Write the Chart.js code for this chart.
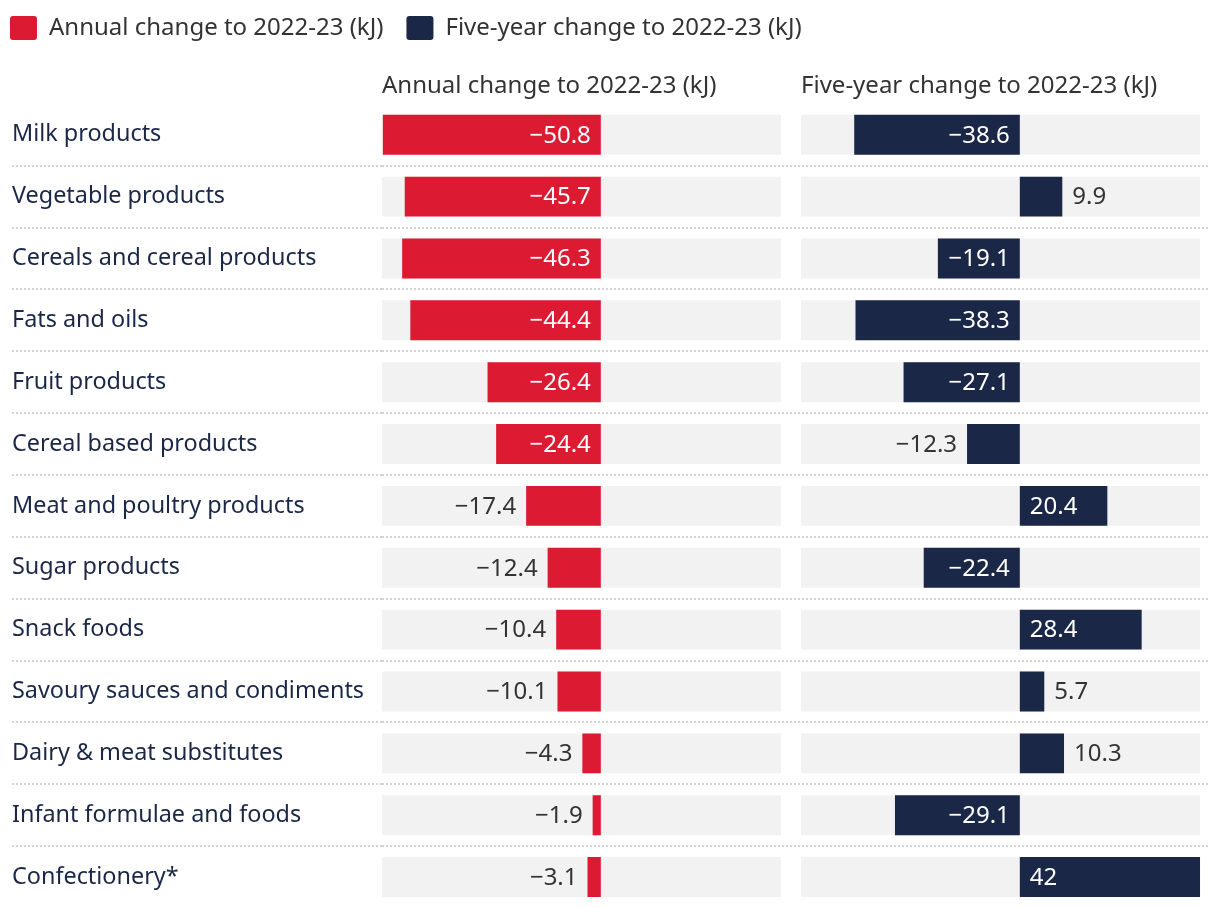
<html lang="en">
<head>
  <meta charset="UTF-8">
  <title>Energy change by food group</title>
  <script src="https://cdn.jsdelivr.net/npm/chart.js"></script>
  <style>
    body { margin: 0; background: #fff; }
  </style>
  <script>
    const categories = [
      'Milk products', 'Vegetable products', 'Cereals and cereal products', 'Fats and oils',
      'Fruit products', 'Cereal based products', 'Meat and poultry products', 'Sugar products',
      'Snack foods', 'Savoury sauces and condiments', 'Dairy & meat substitutes',
      'Infant formulae and foods', 'Confectionery*'
    ]
    const annualChange = [-50.8, -45.7, -46.3, -44.4, -26.4, -24.4, -17.4, -12.4, -10.4, -10.1, -4.3, -1.9, -3.1]
    const fiveYearChange = [-38.6, 9.9, -19.1, -38.3, -27.1, -12.3, 20.4, -22.4, 28.4, 5.7, 10.3, -29.1, 42]
    const seriesNames = ['Annual change to 2022-23 (kJ)', 'Five-year change to 2022-23 (kJ)']
    const axisMin = -51
    const axisMax = 42

    const RED = '#dc1a32'
    const NAVY = '#1b2747'
    const TRACK = '#f2f2f2'
    const FONT = "'Noto Sans', sans-serif"
    const SIZE = 24

    // extra room to the right of each panel (in axis units)
    const leftGap = 4.66
    const rightGap = 1.86

    const fmt = v => String(v).replace('-', '\u2212')

    const valueLabels = {
      id: 'valueLabels',
      afterDatasetsDraw(chart) {
        const ctx = chart.ctx
        ctx.save()
        ctx.font = `${SIZE}px ${FONT}`
        ctx.textBaseline = 'middle'
        chart.data.datasets.forEach((ds, i) => {
          if (ds.isTrack) return
          const meta = chart.getDatasetMeta(i)
          meta.data.forEach((bar, j) => {
            const v = ds.data[j]
            const text = fmt(v)
            const w = ctx.measureText(text).width
            const len = Math.abs(bar.x - bar.base)
            const neg = v < 0
            ctx.textAlign = neg ? 'right' : 'left'
            if (len >= w + 18) {
              ctx.fillStyle = '#fff'
              ctx.fillText(text, neg ? bar.base - 10 : bar.base + 10, bar.y + 1)
            } else {
              ctx.fillStyle = '#333'
              ctx.fillText(text, neg ? bar.x - 10 : bar.x + 10, bar.y + 1)
            }
          })
        })
        ctx.restore()
      }
    }

    // pull the legend up and left so its first box sits near the page corner
    const legendShift = {
      id: 'legendShift',
      afterLayout(chart) {
        chart.legend.left -= 25
        chart.legend.top -= 7
      }
    }

    window.onload = () => {
      const sep = c => (c.type === 'tick' && c.index > 0) ? '#d4d4d4' : 'rgba(0,0,0,0)'
      const track = axisId => ({
        label: 'track',
        isTrack: true,
        data: categories.map(() => [axisMin, axisMax]),
        backgroundColor: TRACK,
        xAxisID: axisId,
        order: 2
      })
      const panelTitle = text => ({
        display: true, text: text, align: 'start', color: '#333',
        font: { family: FONT, size: SIZE }, padding: { top: 15, bottom: 3 }
      })

      new Chart(document.getElementById('viz'), {
        type: 'bar',
        data: {
          labels: categories,
          datasets: [
            { label: seriesNames[0], data: annualChange, backgroundColor: RED, xAxisID: 'xAnnual', order: 1 },
            { label: seriesNames[1], data: fiveYearChange, backgroundColor: NAVY, xAxisID: 'xFive', order: 1 },
            track('xAnnual'),
            track('xFive')
          ]
        },
        options: {
          indexAxis: 'y',
          responsive: false,
          animation: false,
          datasets: { bar: { grouped: false, categoryPercentage: 1, barPercentage: 0.645 } },
          layout: { autoPadding: false, padding: { left: 12, right: 12, top: 0, bottom: 0 } },
          plugins: {
            tooltip: { enabled: false },
            legend: {
              position: 'top',
              align: 'start',
              labels: {
                filter: item => item.text !== 'track',
                boxWidth: 27,
                boxHeight: 24,
                useBorderRadius: true,
                borderRadius: 3,
                padding: 23,
                color: '#333',
                font: { family: FONT, size: SIZE }
              }
            }
          },
          scales: {
            y: {
              // fixed label column, and no extra room kept for half label heights
              afterFit: s => {
                s.width = 370
                s.paddingTop = 0
                s.paddingBottom = 0
              },
              border: { display: false, dash: [2, 2] },
              grid: {
                color: sep,
                tickColor: sep,
                lineWidth: 2,
                tickWidth: 2,
                tickBorderDash: [2, 2],
                tickLength: 370
              },
              ticks: {
                crossAlign: 'far',
                padding: 0,
                color: NAVY,
                font: { family: FONT, size: 23.4 }
              }
            },
            xAnnual: {
              type: 'linear',
              axis: 'x',
              position: 'top',
              stack: 'panels',
              weight: 1,
              stackWeight: axisMax + leftGap - axisMin,
              min: axisMin,
              max: axisMax + leftGap,
              ticks: { display: false },
              grid: { display: false, drawTicks: false },
              border: { display: false },
              title: panelTitle(seriesNames[0])
            },
            xFive: {
              type: 'linear',
              axis: 'x',
              position: 'top',
              stack: 'panels',
              weight: 0,
              stackWeight: axisMax + rightGap - axisMin,
              min: axisMin,
              max: axisMax + rightGap,
              ticks: { display: false },
              grid: { display: false, drawTicks: false },
              border: { display: false },
              title: panelTitle(seriesNames[1])
            }
          }
        },
        plugins: [valueLabels, legendShift]
      })
    }
  </script>
</head>
<body>
  <canvas id="viz" width="1220" height="908"></canvas>
</body>
</html>
